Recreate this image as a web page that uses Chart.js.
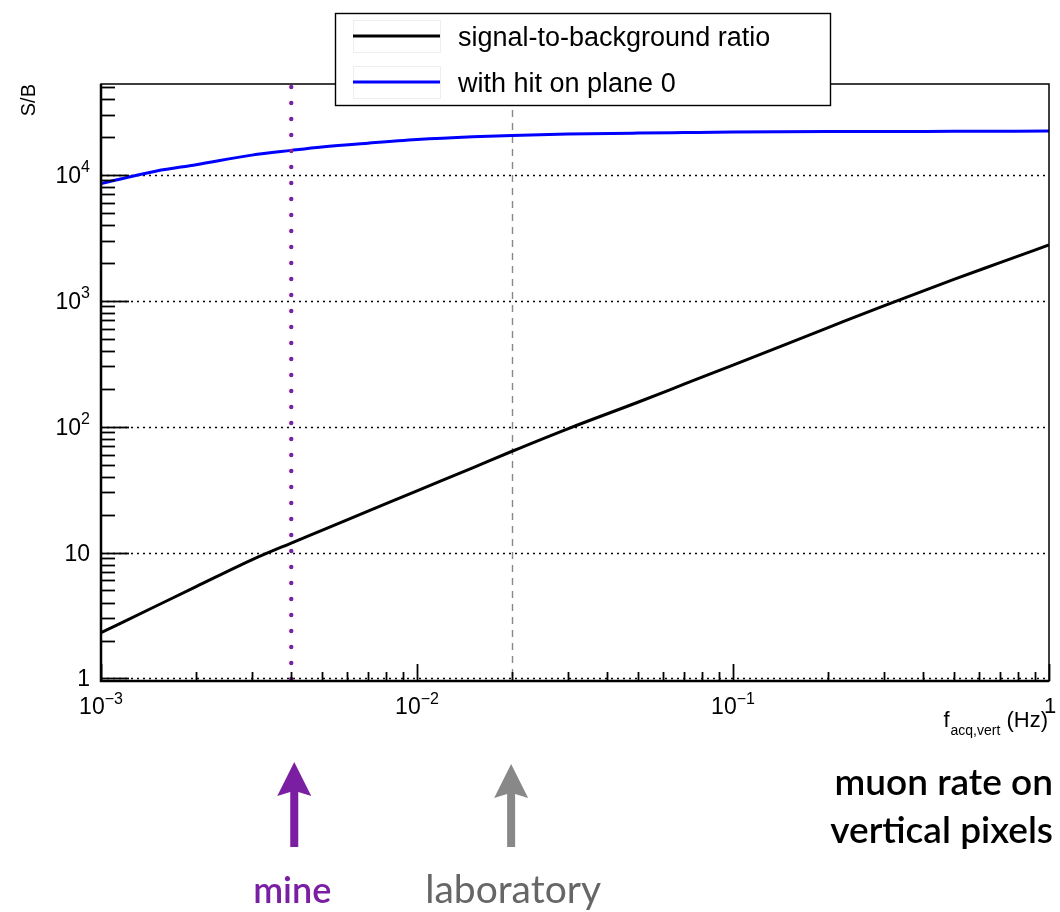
<!DOCTYPE html>
<html>
<head>
<meta charset="utf-8">
<script src="https://cdn.jsdelivr.net/npm/chart.js@4"></script>
<style>
  html, body { margin: 0; padding: 0; background: #fff; }
  #wrap { width: 1060px; height: 912px; position: relative; }
</style>
</head>
<body>
<div id="wrap"><canvas id="chart" width="1060" height="912"></canvas></div>
<script>
// ── Datos ──────────────────────────────────────────────────────────────────
const freqs      = [0.001, 0.0015, 0.002, 0.003, 0.004, 0.005, 0.007, 0.01, 0.015, 0.02, 0.03, 0.05, 0.07, 0.1, 0.2, 0.3, 0.5, 0.7, 1];
const sbRatio    = [2.31, 3.78, 5.36, 8.75, 11.9, 15.0, 21.3, 30.9, 47.1, 63.7, 96, 156, 217, 308, 611, 910, 1476, 2004, 2770];
const sbPlane0   = [8500, 10700, 12000, 14300, 15600, 16600, 17800, 19000, 20000, 20500, 21000, 21400, 21600, 21800, 22000, 22050, 22100, 22150, 22200];
const seriesNames = ['signal-to-background ratio', 'with hit on plane 0'];
const xMajor     = [1e-3, 1e-2, 1e-1, 1];
const xLabels    = [['10', '\u22123'], ['10', '\u22122'], ['10', '\u22121'], ['1', '']];
const yMajor     = [1, 10, 100, 1000, 10000];
const yLabels    = [['1', ''], ['10', ''], ['10', '2'], ['10', '3'], ['10', '4']];
const markers    = [{ f: 0.004, name: 'mine' }, { f: 0.02, name: 'laboratory' }];

const SANS = '"Liberation Sans", Arial, sans-serif';
const GEO  = 'Lato, "Open Sans", sans-serif';

function pts(vals) { return freqs.map((f, i) => ({ x: f, y: vals[i] })); }

// texto con exponente
function supText(ctx, base, exp, x, y, size, align) {
  ctx.font = `${size}px ${SANS}`;
  const wb = ctx.measureText(base).width;
  ctx.font = `${Math.round(size * 0.68)}px ${SANS}`;
  const we = exp ? ctx.measureText(exp).width : 0;
  const w = wb + we;
  let x0 = align === 'right' ? x - w : align === 'center' ? x - w / 2 : x;
  ctx.textAlign = 'left';
  ctx.font = `${size}px ${SANS}`;
  ctx.fillText(base, x0, y);
  if (exp) {
    ctx.font = `${Math.round(size * 0.68)}px ${SANS}`;
    ctx.fillText(exp, x0 + wb, y - size * 0.45);
  }
}

// ── Plugin estilo ROOT ─────────────────────────────────────────────────────
const rootFrame = {
  id: 'rootFrame',
  beforeDatasetsDraw(chart) {
    const { ctx, chartArea: a, scales: { x, y } } = chart;
    ctx.save();
    // rejilla punteada horizontal
    ctx.strokeStyle = '#000';
    ctx.lineWidth = 1.3;
    ctx.setLineDash([2, 4]);
    yMajor.forEach(v => {
      const py = Math.round(y.getPixelForValue(v)) + 0.5;
      ctx.beginPath(); ctx.moveTo(a.left, py); ctx.lineTo(a.right, py); ctx.stroke();
    });
    // línea laboratorio
    ctx.strokeStyle = '#888';
    ctx.lineWidth = 1.4;
    ctx.setLineDash([7, 6]);
    const lx = Math.round(x.getPixelForValue(markers[1].f)) + 0.5;
    ctx.beginPath(); ctx.moveTo(lx, a.top); ctx.lineTo(lx, a.bottom); ctx.stroke();
    ctx.restore();
  },
  afterDatasetsDraw(chart) {
    const { ctx, chartArea: a, scales: { x, y } } = chart;
    ctx.save();
    // línea mina (puntos)
    ctx.fillStyle = '#7b1fa2';
    const mx = x.getPixelForValue(markers[0].f);
    for (let py = a.bottom - 2; py > a.top; py -= 16) {
      ctx.beginPath(); ctx.arc(mx, py, 2.2, 0, Math.PI * 2); ctx.fill();
    }
    // marco
    ctx.strokeStyle = '#000';
    ctx.lineWidth = 1.5;
    ctx.strokeRect(a.left, a.top, a.right - a.left, a.bottom - a.top);
    ctx.lineWidth = 2.5;
    ctx.beginPath(); ctx.moveTo(a.left, a.top); ctx.lineTo(a.left, a.bottom); ctx.lineTo(a.right, a.bottom); ctx.stroke();
    // ticks eje y
    ctx.lineWidth = 1.8;
    for (let d = 0; d <= 4; d++) {
      for (let m = 1; m <= 9; m++) {
        const v = m * Math.pow(10, d);
        if (v > y.max) break;
        const py = Math.round(y.getPixelForValue(v)) + 0.5;
        const len = m === 1 ? 28 : 14;
        ctx.beginPath(); ctx.moveTo(a.left, py); ctx.lineTo(a.left + len, py); ctx.stroke();
      }
    }
    // ticks eje x
    for (let d = -3; d <= 0; d++) {
      for (let m = 1; m <= 9; m++) {
        const v = m * Math.pow(10, d);
        if (v > x.max * 1.0001) break;
        const px = Math.round(x.getPixelForValue(v)) + 0.5;
        const len = m === 1 ? 17 : 9;
        ctx.beginPath(); ctx.moveTo(px, a.bottom); ctx.lineTo(px, a.bottom - len); ctx.stroke();
      }
    }
    // etiquetas
    ctx.fillStyle = '#000';
    ctx.textBaseline = 'alphabetic';
    yMajor.forEach((v, i) => {
      const py = y.getPixelForValue(v);
      supText(ctx, yLabels[i][0], yLabels[i][1], 90, py + 8, 23, 'right');
    });
    xMajor.forEach((v, i) => {
      const px = x.getPixelForValue(v);
      if (i === xMajor.length - 1) {
        supText(ctx, xLabels[i][0], '', px + 1, 713, 22, 'center');
      } else {
        supText(ctx, xLabels[i][0], xLabels[i][1], px, 714, 23, 'center');
      }
    });
    // título eje x
    ctx.font = `22px ${SANS}`;
    const wHz = ctx.measureText(' (Hz)').width;
    ctx.font = `14px ${SANS}`;
    const wSub = ctx.measureText('acq,vert').width;
    ctx.font = `22px ${SANS}`;
    const wf = ctx.measureText('f').width;
    let tx = 1047 - wHz - wSub - wf;
    ctx.textAlign = 'left';
    ctx.fillText('f', tx, 727);
    ctx.font = `14px ${SANS}`;
    ctx.fillText('acq,vert', tx + wf + 1, 735);
    ctx.font = `22px ${SANS}`;
    ctx.fillText(' (Hz)', tx + wf + wSub + 1, 727);
    // título eje y
    ctx.save();
    ctx.translate(35, a.top);
    ctx.rotate(-Math.PI / 2);
    ctx.textAlign = 'right';
    ctx.font = `20px ${SANS}`;
    ctx.fillText('S/B', 0, 0);
    ctx.restore();

    // leyenda
    ctx.fillStyle = '#fff';
    ctx.fillRect(335, 13, 495, 92);
    ctx.strokeStyle = '#000';
    ctx.lineWidth = 1.4;
    ctx.strokeRect(335.5, 13.5, 495, 92);
    const legColors = ['#000', '#0000ff'];
    seriesNames.forEach((name, i) => {
      const cy = 36 + i * 46;
      ctx.strokeStyle = '#eee';
      ctx.lineWidth = 1;
      ctx.strokeRect(353.5, cy - 15.5, 87, 32);
      ctx.strokeStyle = legColors[i];
      ctx.lineWidth = 3;
      ctx.beginPath(); ctx.moveTo(353, cy); ctx.lineTo(440, cy); ctx.stroke();
      ctx.fillStyle = '#000';
      ctx.font = `27px ${SANS}`;
      ctx.textAlign = 'left';
      ctx.fillText(name, 458, cy + 10);
    });

    // flechas y anotaciones
    const arrowCols = ['#7b1fa2', '#888888'];
    const textCols  = ['#7b1fa2', '#666666'];
    markers.forEach((mk, i) => {
      const ax = x.getPixelForValue(mk.f) + (i === 0 ? 3 : -1);
      const tip = 762 + i * 2;
      ctx.fillStyle = arrowCols[i];
      ctx.beginPath();
      ctx.moveTo(ax, tip);
      ctx.lineTo(ax + 17, tip + 34);
      ctx.lineTo(ax + 4, tip + 30);
      ctx.lineTo(ax + 4, 847);
      ctx.lineTo(ax - 4, 847);
      ctx.lineTo(ax - 4, tip + 30);
      ctx.lineTo(ax - 17, tip + 34);
      ctx.closePath();
      ctx.fill();
      ctx.fillStyle = textCols[i];
      ctx.font = (i === 0 ? '600 36px ' : '400 39px ') + GEO;
      ctx.textAlign = 'center';
      ctx.fillText(mk.name, ax + (i === 0 ? -2 : 2), 903);
    });
    ctx.fillStyle = '#000';
    ctx.textAlign = 'right';
    ctx.font = `600 37px ${GEO}`;
    ctx.fillText('muon rate on', 1053, 795);
    ctx.fillText('vertical pixels', 1053, 843);
    ctx.restore();
  }
};

// ── Gráfica ────────────────────────────────────────────────────────────────
new Chart(document.getElementById('chart').getContext('2d'), {
  type: 'line',
  data: {
    datasets: [
      { label: seriesNames[0], data: pts(sbRatio), borderColor: '#000', borderWidth: 3, pointRadius: 0, cubicInterpolationMode: 'monotone', fill: false },
      { label: seriesNames[1], data: pts(sbPlane0), borderColor: '#0000ff', borderWidth: 3, pointRadius: 0, cubicInterpolationMode: 'monotone', fill: false }
    ]
  },
  options: {
    responsive: false,
    animation: false,
    layout: { padding: { left: 101, right: 11, top: 84, bottom: 231 } },
    plugins: { legend: { display: false }, tooltip: { enabled: false } },
    scales: {
      x: { type: 'logarithmic', min: 0.001, max: 1, display: false },
      y: { type: 'logarithmic', min: 0.955, max: 52500, display: false }
    }
  },
  plugins: [rootFrame]
});
</script>
</body>
</html>
